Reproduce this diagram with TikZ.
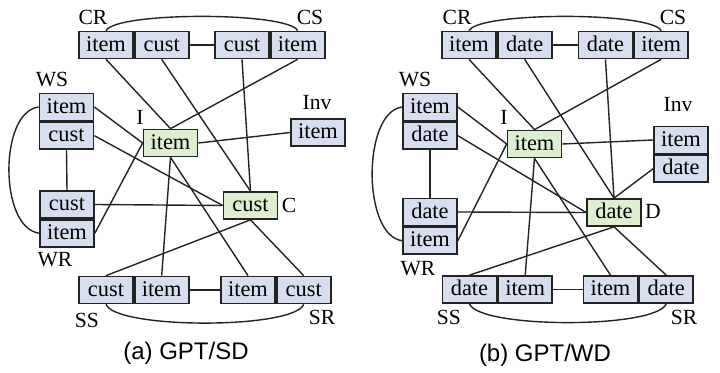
\documentclass[tikz,border=0pt]{standalone}
\usepackage{fontspec}
\setmainfont{Liberation Serif}
\setsansfont{Liberation Sans}
\usetikzlibrary{positioning}
\definecolor{cellblue}{RGB}{214,222,239}
\definecolor{cellgreen}{RGB}{222,239,208}
\definecolor{edgegray}{RGB}{35,35,35}
\begin{document}
\begin{tikzpicture}[x=0.5pt, y=-0.5pt,
  cell/.style={draw=edgegray, line width=0.85pt, fill=cellblue, minimum width=27pt,
    minimum height=13.5pt, inner sep=0pt, text height=7.6pt, text depth=1.4pt,
    font=\fontsize{11.2}{12}\selectfont},
  keycell/.style={cell, fill=cellgreen},
  lbl/.style={font=\fontsize{10.8}{12}\selectfont, inner sep=0pt},
  link/.style={draw=edgegray, line width=0.7pt},
  node distance=0pt]
  \useasboundingbox (0,0) rectangle (720,373);

  % (a) GPT/SD
  \node[cell] (aCRi) at (106,45) {item};
  \node[cell, right=of aCRi] (aCRc) {cust};
  \node[cell] (aCSc) at (242,45) {cust};
  \node[cell, right=of aCSc] (aCSi) {item};
  \node[cell] (aWSi) at (66.5,107) {item};
  \node[cell, below=of aWSi] (aWSc) {cust};
  \node[keycell] (aI) at (170.5,143) {item};
  \node[cell] (aInv) at (318,132.5) {item};
  \node[cell] (aWRc) at (67,204.5) {cust};
  \node[cell, below=of aWRc] (aWRi) {item};
  \node[keycell] (aC) at (250.5,205.5) {cust};
  \node[cell] (aSSc) at (106,290) {cust};
  \node[cell, right=of aSSc] (aSSi) {item};
  \node[cell] (aSRi) at (248,290) {item};
  \node[cell, right=of aSRi] (aSRc) {cust};

  \node[lbl] at (93,17) {CR};
  \node[lbl] at (310,17) {CS};
  \node[lbl] at (52,80) {WS};
  \node[lbl] at (140,117) {I};
  \node[lbl] at (317,103) {Inv};
  \node[lbl] at (55,260) {WR};
  \node[lbl] at (289,205) {C};
  \node[lbl] at (87,320) {SS};
  \node[lbl] at (322,317) {SR};

  \foreach \p/\q in {aCRc.east/aCSc.west, aCRi.south/aI.north, aCRc.south/aC.north,
      aCSc.south/aC.north, aCSi.south/aI.north, aWSi.east/aI.west, aWSc.east/aC.west,
      aWSc.south/aWRc.north, aWRc.east/aC.west, aWRi.east/aI.west, aI.east/aInv.west,
      aC.south/aSSc.north, aC.south/aSRc.north, aI.south/aSSi.north,
      aI.south/aSRi.north, aSSi.east/aSRi.west}
    \draw[link] (\p) -- (\q);
  \draw[link] (aCRi.north) .. controls +(10,-19) and +(-10,-19) .. (aCSi.north);
  \draw[link] (aSSc.south) .. controls +(10,25) and +(-10,25) .. (aSRc.south);
  \draw[link] (aWSi.west) .. controls +(-40,5) and +(-40,-5) .. (aWRi.west);

  \node[font=\sffamily\fontsize{12}{14}\selectfont] (capA) at (186,353) {(a) GPT/SD};

  % (b) GPT/WD
  \node[cell] (bCRi) at (469,45) {item};
  \node[cell, right=of bCRi] (bCRd) {date};
  \node[cell] (bCSd) at (605.5,45) {date};
  \node[cell, right=of bCSd] (bCSi) {item};
  \node[cell] (bWSi) at (430,107) {item};
  \node[cell, below=of bWSi] (bWSd) {date};
  \node[keycell] (bI) at (534.5,144) {item};
  \node[cell] (bInvi) at (681,140) {item};
  \node[cell, below=of bInvi] (bInvd) {date};
  \node[cell] (bWRd) at (430,212) {date};
  \node[cell, below=of bWRd] (bWRi) {item};
  \node[keycell] (bD) at (614,212.5) {date};
  \node[cell] (bSSd) at (469.5,289.5) {date};
  \node[cell, right=of bSSd] (bSSi) {item};
  \node[cell] (bSRi) at (610.5,289.5) {item};
  \node[cell, right=of bSRi] (bSRd) {date};

  \node[lbl] at (457,17) {CR};
  \node[lbl] at (673,17) {CS};
  \node[lbl] at (415,80) {WS};
  \node[lbl] at (504,117) {I};
  \node[lbl] at (678,105) {Inv};
  \node[lbl] at (418,269) {WR};
  \node[lbl] at (653,211) {D};
  \node[lbl] at (449,317) {SS};
  \node[lbl] at (684,317) {SR};

  \foreach \p/\q in {bCRd.east/bCSd.west, bCRi.south/bI.north, bCRd.south/bD.north,
      bCSd.south/bD.north, bCSi.south/bI.north, bWSi.east/bI.west, bWSd.east/bD.west,
      bWSd.south/bWRd.north, bWRd.east/bD.west, bWRi.east/bI.west, bI.east/bInvi.west,
      bInvd.west/bD.north, bD.south/bSSd.north, bD.south/bSRd.north,
      bI.south/bSSi.north, bI.south/bSRi.north, bSSi.east/bSRi.west}
    \draw[link] (\p) -- (\q);
  \draw[link] (bCRi.north) .. controls +(10,-19) and +(-10,-19) .. (bCSi.north);
  \draw[link] (bSSd.south) .. controls +(10,25) and +(-10,25) .. (bSRd.south);
  \draw[link] (bWSi.west) .. controls +(-40,5) and +(-40,-5) .. (bWRi.west);

  \node[font=\sffamily\fontsize{12}{14}\selectfont] (capB) at (545,355) {(b) GPT/WD};
\end{tikzpicture}
\end{document}
